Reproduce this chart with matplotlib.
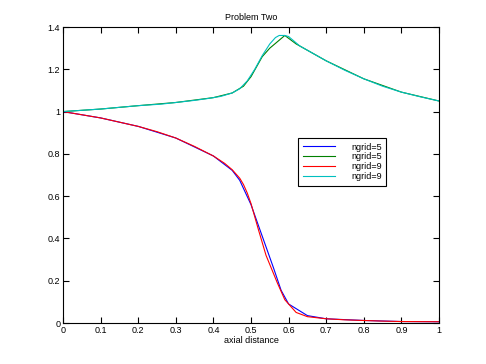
import matplotlib.pyplot as plt
import numpy as np
from matplotlib.ticker import FormatStrFormatter

# upper curve (ngrid=9, cyan) and coarse version (ngrid=5, green)
x_up9 = [0, 0.1, 0.2, 0.26, 0.3, 0.35, 0.39, 0.42, 0.45, 0.47, 0.49, 0.51, 0.53, 0.55,
         0.565, 0.575, 0.59, 0.60, 0.63, 0.67, 0.70, 0.75, 0.80, 0.85, 0.90, 0.95, 1.0]
y_up9 = [1.0, 1.012, 1.028, 1.035, 1.043, 1.053, 1.063, 1.072, 1.088, 1.108, 1.145, 1.20, 1.265, 1.32,
         1.35, 1.36, 1.36, 1.355, 1.31, 1.27, 1.24, 1.195, 1.155, 1.12, 1.092, 1.07, 1.05]
x_up5 = [0, 0.1, 0.2, 0.3, 0.4, 0.45, 0.48, 0.5, 0.53, 0.55, 0.57, 0.59, 0.62, 0.7, 0.8, 0.9, 1.0]
y_up5 = [1.0, 1.012, 1.028, 1.043, 1.066, 1.088, 1.12, 1.165, 1.26, 1.30, 1.33, 1.36, 1.32, 1.24, 1.155, 1.092, 1.05]

# lower curve (ngrid=9, red) and coarse version (ngrid=5, blue)
x_lo9 = [0, 0.1, 0.2, 0.25, 0.3, 0.35, 0.4, 0.43, 0.45, 0.47, 0.48, 0.49, 0.5, 0.52, 0.54,
         0.57, 0.59, 0.62, 0.65, 0.7, 0.75, 0.8, 0.85, 0.9, 1.0]
y_lo9 = [1.0, 0.97, 0.93, 0.905, 0.875, 0.835, 0.79, 0.755, 0.725, 0.685, 0.655, 0.615, 0.565, 0.44, 0.32,
         0.19, 0.11, 0.05, 0.03, 0.02, 0.015, 0.012, 0.009, 0.007, 0.006]
x_lo5 = [0, 0.1, 0.2, 0.3, 0.4, 0.45, 0.47, 0.5, 0.53, 0.56, 0.58, 0.6, 0.65, 0.7, 0.8, 0.9, 1.0]
y_lo5 = [1.0, 0.97, 0.93, 0.875, 0.79, 0.722, 0.675, 0.56, 0.41, 0.26, 0.155, 0.09, 0.035, 0.02, 0.012, 0.007, 0.006]

labels = ['ngrid=5', 'ngrid=5', 'ngrid=9', 'ngrid=9']

plt.rcParams['font.family'] = ['Liberation Sans', 'DejaVu Sans']
fig = plt.figure(figsize=(4.86, 3.64), dpi=100)
ax = fig.add_axes([0.1296, 0.1126, 0.7737, 0.8132])

ax.plot(x_lo5, y_lo5, color=(0, 0, 1), lw=0.8, label=labels[0])
ax.plot(x_up5, y_up5, color=(0, 0.5, 0), lw=0.8, label=labels[1])
ax.plot(x_lo9, y_lo9, color=(1, 0, 0), lw=0.8, label=labels[2])
ax.plot(x_up9, y_up9, color=(0, 0.75, 0.75), lw=0.8, label=labels[3])

ax.set_xlim(0, 1)
ax.set_ylim(0, 1.4)
ax.set_xticks(np.arange(0, 1.01, 0.1))
ax.set_yticks(np.arange(0, 1.41, 0.2))
ax.xaxis.set_major_formatter(FormatStrFormatter('%g'))
ax.yaxis.set_major_formatter(FormatStrFormatter('%g'))
ax.tick_params(direction='in', length=4, width=0.8, labelsize=6.5,
               top=True, right=True, pad=2)
for s in ax.spines.values():
    s.set_linewidth(0.8)

ax.set_title('Problem Two', fontsize=6.5, pad=5)
ax.set_xlabel('axial distance', fontsize=6.5, labelpad=1)

leg = ax.legend(loc='upper left', bbox_to_anchor=(0.625, 0.625), fontsize=6.5,
                frameon=True, fancybox=False, edgecolor='black', framealpha=1,
                handlelength=3.6, handletextpad=1.8, borderpad=0.5, labelspacing=0.1,
                borderaxespad=0)
leg.get_frame().set_linewidth(0.8)

fig.savefig('out.png', dpi=100)
